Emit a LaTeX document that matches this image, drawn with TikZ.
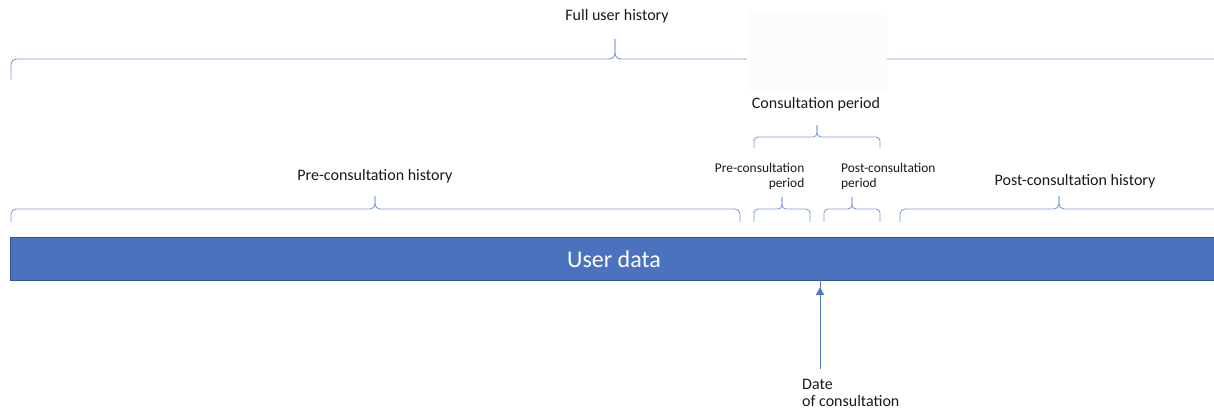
\documentclass[tikz,border=0pt]{standalone}
\usepackage{fontspec}
\setmainfont{Carlito}
\usetikzlibrary{arrows.meta}
\definecolor{brc}{RGB}{125,155,215}
\definecolor{barfill}{RGB}{74,114,191}
\definecolor{barline}{RGB}{52,85,150}
\definecolor{arr}{RGB}{80,120,200}
\tikzset{
  brace/.style={draw=brc, line width=0.9pt},
  lbl/.style={inner sep=0pt, font=\fontsize{16}{18}\selectfont, text=black!90},
  slbl/.style={inner sep=0pt, font=\fontsize{13.4}{15}\selectfont, text=black!90, align=right},
}
% \ourbrace{x1}{x2}{xtip}{yline}{ybottom}{ytip}{radius}
\newcommand\ourbrace[7]{%
  \draw[brace, rounded corners=#7] (#1,#5) -- (#1,#4) -- (#3,#4) -- (#3,#6);
  \draw[brace, rounded corners=#7] (#2,#5) -- (#2,#4) -- (#3,#4) -- (#3,#6);
}
\begin{document}
\begin{tikzpicture}[x=1pt,y=-1pt]
\useasboundingbox (0,0) rectangle (1214,412);
% top brace (full history), right end runs off the picture
\ourbrace{11}{1222}{615}{59}{80}{39}{6}
\fill[black!1] (747,10) rectangle (887,91);
\node[lbl, anchor=base] (full) at (617,21) {Full user history};

% consultation period
\node[lbl, anchor=base] (cons) at (816,108) {Consultation period};
\ourbrace{754}{880}{817}{137}{148}{125}{4}

% lower labels
\node[lbl, anchor=base] (prehist) at (375,180) {Pre-consultation history};
\node[slbl, anchor=north east] (preper) at (804.5,163) {Pre-consultation\\period};
\node[slbl, anchor=north west, align=left] (postper) at (841,163) {Post-consultation\\period};
\node[lbl, anchor=base] (posthist) at (1075,185) {Post-consultation history};

% lower braces
\ourbrace{11}{740}{375}{209}{222}{196}{5}
\ourbrace{754}{810}{782}{209}{222}{197}{4}
\ourbrace{824}{880}{852}{209}{222}{197}{4}
\ourbrace{900}{1222}{1059}{209}{222}{196}{5}

% bar
\node[draw=barline, fill=barfill, line width=0.8pt, minimum width=1212pt, minimum height=43pt,
      anchor=north west, inner sep=0pt] (bar)
      at (9.5,236.5) {};
\node[text=white, font=\fontsize{24}{28}\selectfont, inner sep=0pt, anchor=base] (udata) at (614,267) {User data};

% date of consultation
\coordinate (astart) at (820,369);
\draw[arr, line width=0.9pt, -{Triangle[length=7.5pt,width=8pt]}] (astart) -- (astart |- bar.south) ++(0,7);
\node[lbl, anchor=base west] (date) at (802,389) {Date};
\node[lbl, anchor=base west] (date2) at (802,406) {of consultation};
\end{tikzpicture}
\end{document}
